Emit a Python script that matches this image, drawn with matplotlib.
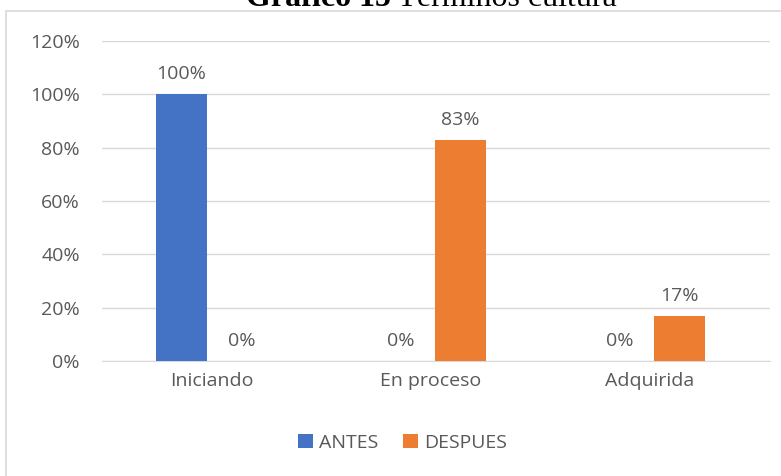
import numpy as np
import matplotlib.pyplot as plt
from matplotlib.patches import Rectangle

categorias = ['Iniciando', 'En proceso', 'Adquirida']
antes = [100, 0, 0]
despues = [0, 83, 17]
yticks = [0, 20, 40, 60, 80, 100, 120]

azul = '#4472C4'
naranja = '#ED7D31'
gris = '#595959'

plt.rcParams['font.family'] = ['Open Sans', 'DejaVu Sans']

fig = plt.figure(figsize=(7.81, 4.76), dpi=100)
ax = fig.add_axes([0.1306, 0.2416, 0.855, 0.6723])

# marco del grafico
fig.patches.append(Rectangle((6 / 781, -0.01), 1, 1 - 11 / 476 + 0.01,
                             transform=fig.transFigure, fill=False,
                             edgecolor='#D9D9D9', linewidth=1.2))

x = np.arange(len(categorias))
ancho = 0.23
desp = 0.137
b1 = ax.bar(x - desp, antes, ancho, color=azul, label='ANTES', zorder=3)
b2 = ax.bar(x + desp, despues, ancho, color=naranja, label='DESPUES', zorder=3)

for bars in (b1, b2):
    for bar in bars:
        h = bar.get_height()
        ax.annotate('%d%%' % h, (bar.get_x() + bar.get_width() / 2, h),
                    xytext=(0, 8), textcoords='offset points',
                    ha='center', va='bottom', fontsize=14, color=gris)

ax.set_xlim(-0.5, 2.55)
ax.set_ylim(0, 120)
ax.set_yticks(yticks)
ax.set_yticklabels(['%d%%' % t for t in yticks])
ax.set_xticks(x)
ax.set_xticklabels(categorias)
ax.tick_params(length=0, labelsize=14, colors=gris)
ax.tick_params(axis='y', pad=16)
ax.tick_params(axis='x', pad=8)
ax.grid(axis='y', color='#D9D9D9', linewidth=1, zorder=0)
for s in ['top', 'right', 'left']:
    ax.spines[s].set_visible(False)
ax.spines['bottom'].set_color('#D9D9D9')

ax.legend(loc='center', bbox_to_anchor=(0.45, -0.256), ncol=2, frameon=False,
          fontsize=14, handlelength=0.75, handleheight=0.75, handletextpad=0.3,
          columnspacing=1.3, labelcolor=gris)

# titulo: parte en negrita y parte normal
fig.text(0.5, 1 - 6 / 476, 'Gráfico 15', family='Liberation Serif',
         fontweight='bold', fontsize=23, ha='right', va='baseline')
fig.text(0.5, 1 - 6 / 476, ' Términos cultura', family='Liberation Serif',
         fontsize=23, ha='left', va='baseline')

fig.savefig('out.png', dpi=100)
